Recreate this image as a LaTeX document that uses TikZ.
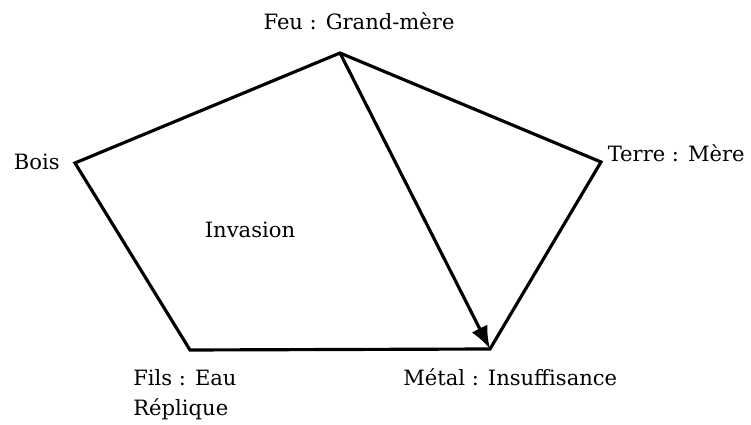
\documentclass[tikz,border=0pt]{standalone}
\usepackage{fontspec}
\setmainfont{DejaVu Serif}
\usepackage{tikz}
\usetikzlibrary{arrows.meta}

\begin{document}
\begin{tikzpicture}[
    x=0.02cm, y=-0.02cm,
    side/.style={line width=1.8pt, line join=miter},
    lbl/.style={inner sep=0pt, font=\fontsize{12}{17}\selectfont},
]
\useasboundingbox (0,0) rectangle (751,425);

% ---- sommets du pentagone ----
\coordinate (feu) at (340,53);
\coordinate (terre) at (601,162);
\coordinate (metal) at (490,349);
\coordinate (eau) at (190,350);
\coordinate (bois) at (75,163);

% ---- étiquettes ----
\node[lbl] (lfeu) at (359,21) {Feu : Grand-mère};
\node[lbl, anchor=east] (lterre) at (745,153) {Terre : Mère};
\node[lbl, anchor=west] (lmetal) at (403,377) {Métal : Insuffisance};
\node[lbl, anchor=west, align=left] (leau) at (133,395) {Fils : Eau\\Réplique};
\node[lbl, anchor=east] (lbois) at (60,162) {Bois};
\node[lbl] (linv) at (250,230) {Invasion};

% ---- pentagone ----
\draw[side] (feu) -- (terre) -- (metal) -- (eau) -- (bois) -- cycle;

% ---- flèche ----
\draw[side, -{Latex[length=13pt, width=10pt]}] (feu) -- (metal);

\end{tikzpicture}
\end{document}
